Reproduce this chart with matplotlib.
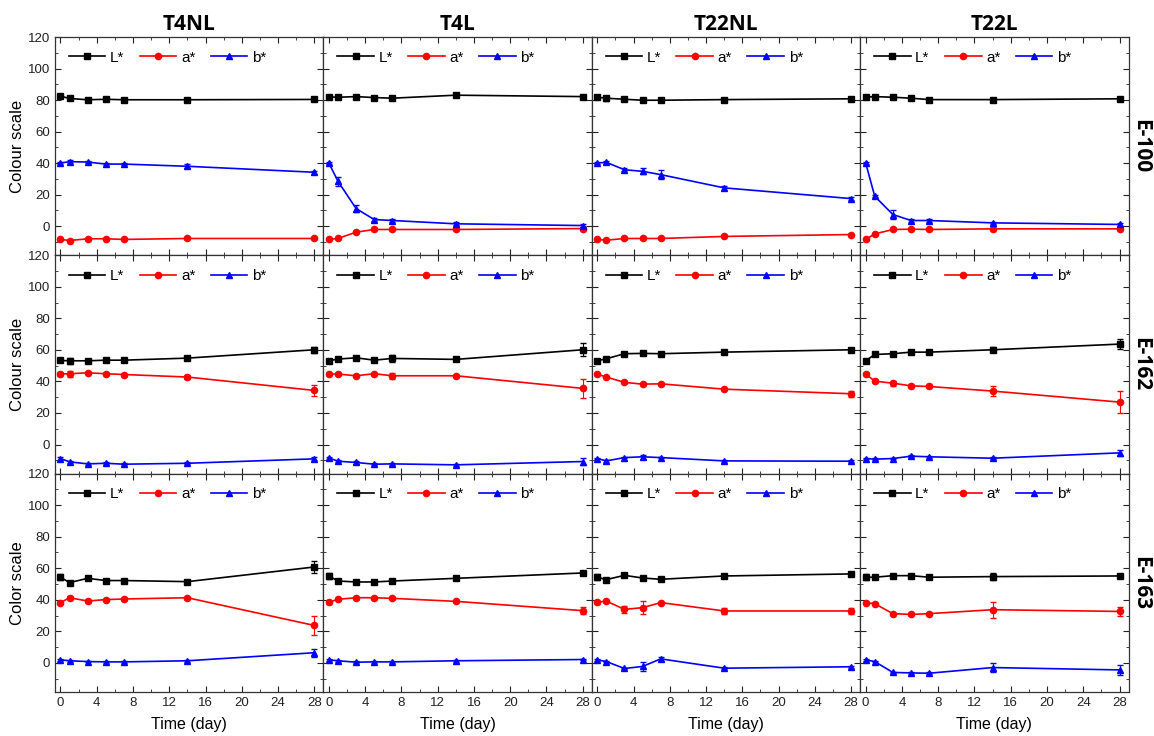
import matplotlib
matplotlib.use("Agg")
import matplotlib.pyplot as plt
from matplotlib.ticker import MultipleLocator

plt.rcParams['font.family'] = ['Liberation Sans', 'DejaVu Sans']

days = [0, 1, 3, 5, 7, 14, 28]
treatments = ["T4NL", "T4L", "T22NL", "T22L"]
colourants = ["E-100", "E-162", "E-163"]
ylabels = ["Colour scale", "Colour scale", "Color scale"]

# E-100 (one list per treatment, in the order of `treatments`)
e100_L = [[82.5, 81.0, 80.2, 80.5, 80.2, 80.2, 80.4],
          [82.0, 81.8, 82.2, 81.6, 81.2, 83.1, 82.2],
          [81.8, 81.2, 80.5, 79.9, 79.9, 80.3, 80.8],
          [81.8, 82.2, 81.8, 81.2, 80.3, 80.3, 80.8]]
e100_a = [[-8.4, -9.1, -8.0, -8.0, -8.4, -7.8, -7.8],
          [-8.4, -7.8, -3.8, -2.1, -2.1, -2.1, -1.5],
          [-8.4, -8.9, -7.8, -7.8, -7.8, -6.5, -5.3],
          [-8.4, -4.9, -2.1, -1.9, -2.1, -1.7, -1.7]]
e100_b = [[40.1, 40.9, 40.7, 39.4, 39.4, 38.0, 34.2],
          [40.1, 28.5, 11.2, 4.2, 3.6, 1.5, 0.4],
          [40.1, 40.5, 35.8, 34.8, 32.7, 24.3, 17.5],
          [40.1, 19.0, 7.4, 3.6, 3.6, 2.1, 1.1]]
e100_L_err = [[0.8, 0.8, 0.5, 0.5, 0.5, 0.5, 0.5],
              [0.5, 0.5, 0.5, 0.5, 0.5, 0.5, 0.5],
              [1.2, 1.5, 0.5, 0.5, 0.5, 0.5, 0.5],
              [0.5, 0.5, 0.5, 0.5, 0.5, 0.5, 0.5]]
e100_a_err = [[0.5, 0.5, 0.5, 0.5, 0.5, 0.5, 0.5],
              [0.5, 0.5, 0.5, 0.5, 0.5, 0.5, 0.5],
              [0.5, 0.5, 0.5, 0.5, 0.5, 0.5, 0.5],
              [0.5, 0.5, 0.5, 0.5, 0.5, 0.5, 0.5]]
e100_b_err = [[0.8, 0.8, 0.5, 0.8, 0.8, 1.2, 0.8],
              [0.5, 3.0, 2.5, 0.8, 0.8, 1.0, 0.8],
              [0.8, 0.8, 0.8, 2.0, 3.0, 1.5, 0.8],
              [0.5, 0.8, 3.0, 0.8, 0.8, 0.8, 0.8]]

# E-162
e162_L = [[53.3, 53.1, 53.1, 53.5, 53.5, 54.8, 60.1],
          [53.1, 54.2, 55.0, 53.5, 54.6, 54.0, 60.1],
          [53.1, 54.4, 57.6, 57.8, 57.6, 58.6, 60.1],
          [53.1, 57.1, 57.6, 58.6, 58.6, 60.1, 63.7]]
e162_a = [[44.7, 44.9, 45.5, 44.9, 44.4, 42.8, 34.3],
          [44.7, 44.7, 43.6, 44.9, 43.6, 43.6, 35.6],
          [44.7, 42.8, 39.4, 38.3, 38.5, 35.1, 32.2],
          [44.7, 40.2, 38.9, 37.2, 36.8, 33.9, 26.9]]
e162_b = [[-8.9, -11.0, -12.3, -11.9, -12.5, -11.9, -9.1],
          [-8.5, -10.6, -11.4, -12.5, -12.3, -12.9, -10.8],
          [-8.9, -10.4, -8.3, -7.8, -8.3, -10.4, -10.6],
          [-8.9, -9.3, -8.9, -7.4, -7.8, -8.7, -5.3]]
e162_L_err = [[1.0, 2.0, 0.5, 0.5, 0.5, 0.8, 2.0],
              [0.8, 1.0, 0.5, 0.5, 2.0, 0.5, 4.0],
              [0.8, 0.5, 0.5, 0.5, 0.5, 0.5, 0.5],
              [0.5, 0.5, 1.0, 0.5, 0.5, 1.5, 3.0]]
e162_a_err = [[1.0, 2.0, 0.8, 0.5, 0.5, 1.0, 3.5],
              [0.8, 0.8, 0.5, 0.5, 2.0, 0.5, 6.0],
              [0.5, 0.5, 0.5, 0.5, 0.5, 0.5, 2.0],
              [0.5, 0.5, 1.5, 0.8, 0.8, 3.0, 7.0]]
e162_b_err = [[0.8, 0.8, 0.5, 0.5, 0.5, 0.5, 1.0],
              [0.5, 0.5, 0.8, 0.5, 0.5, 0.5, 2.0],
              [0.5, 0.5, 0.5, 1.2, 0.5, 0.5, 0.5],
              [0.5, 0.5, 0.5, 0.8, 0.8, 0.5, 2.0]]

# E-163
e163_L = [[54.3, 50.9, 53.6, 52.2, 52.2, 51.5, 60.8],
          [55.1, 51.9, 51.3, 51.3, 51.9, 53.6, 57.0],
          [54.3, 52.8, 55.5, 53.8, 53.0, 55.1, 56.4],
          [54.3, 54.3, 55.3, 55.3, 54.3, 54.7, 55.1]]
e163_a = [[38.2, 41.3, 39.2, 40.1, 40.5, 41.3, 23.7],
          [38.4, 40.3, 41.3, 41.3, 40.9, 39.0, 33.1],
          [38.4, 39.2, 33.9, 35.0, 38.2, 32.9, 32.9],
          [38.2, 37.5, 31.2, 30.7, 31.2, 33.7, 32.6]]
e163_b = [[1.9, 1.3, 0.8, 0.6, 0.6, 1.3, 6.4],
          [1.9, 1.3, 0.4, 0.6, 0.6, 1.3, 2.1],
          [1.9, 0.8, -3.6, -2.3, 2.5, -3.4, -2.5],
          [1.9, 0.8, -6.1, -6.4, -6.6, -3.0, -4.5]]
e163_L_err = [[2.0, 0.5, 1.0, 0.8, 1.0, 0.5, 3.5],
              [2.0, 0.5, 0.5, 0.5, 0.5, 0.5, 0.5],
              [2.0, 1.0, 0.5, 0.5, 0.5, 0.5, 0.5],
              [2.0, 0.5, 0.5, 0.5, 0.5, 2.0, 0.5]]
e163_a_err = [[0.8, 1.0, 0.8, 0.5, 0.8, 0.5, 6.0],
              [0.8, 0.5, 0.5, 0.5, 0.5, 0.5, 2.0],
              [0.8, 0.5, 2.0, 4.0, 0.5, 2.0, 2.0],
              [0.5, 0.5, 0.5, 0.5, 0.5, 5.0, 3.0]]
e163_b_err = [[0.5, 0.5, 0.5, 0.5, 0.5, 0.5, 2.5],
              [0.5, 0.5, 0.5, 0.5, 0.5, 0.5, 0.5],
              [0.5, 0.5, 0.5, 3.0, 1.5, 0.5, 0.5],
              [0.5, 0.5, 0.5, 0.5, 0.5, 3.0, 3.0]]

rows = [
    (e100_L, e100_a, e100_b, e100_L_err, e100_a_err, e100_b_err),
    (e162_L, e162_a, e162_b, e162_L_err, e162_a_err, e162_b_err),
    (e163_L, e163_a, e163_b, e163_L_err, e163_a_err, e163_b_err),
]

fig, axes = plt.subplots(3, 4, figsize=(11.54, 7.36), dpi=100)
fig.subplots_adjust(left=0.0477, right=0.978, top=0.9497, bottom=0.0598,
                    wspace=0, hspace=0)

series_style = [('L*', 'black', 's', 4.5), ('a*', '#ff0000', 'o', 4.5),
                ('b*', '#0000ff', '^', 5)]

for r, (Ls, As, Bs, Le, Ae, Be) in enumerate(rows):
    for c in range(4):
        ax = axes[r, c]
        for (lab, col, mk, ms), vals, errs in zip(series_style,
                                                  (Ls[c], As[c], Bs[c]),
                                                  (Le[c], Ae[c], Be[c])):
            ax.errorbar(days, vals, yerr=errs, fmt='none', ecolor=col,
                        elinewidth=0.8, capsize=2)
            ax.plot(days, vals, color=col, marker=mk, ms=ms, lw=1.2, label=lab)
        ax.set_xlim(-0.6, 29)
        ax.set_ylim(-18.5, 120)
        ax.xaxis.set_major_locator(MultipleLocator(4))
        ax.xaxis.set_minor_locator(MultipleLocator(2))
        ax.yaxis.set_major_locator(MultipleLocator(20))
        ax.yaxis.set_minor_locator(MultipleLocator(10))
        ax.tick_params(which='both', direction='in', top=True, right=True,
                       labelsize=9.5, color='#222222', labelcolor='#222222')
        ax.tick_params(which='major', length=4)
        ax.tick_params(which='minor', length=2.5)
        for sp in ax.spines.values():
            sp.set_color('#333333')
            sp.set_linewidth(0.9)
        if c > 0:
            ax.tick_params(labelleft=False)
        else:
            ax.set_ylabel(ylabels[r], fontsize=12, labelpad=2)
        if r < 2:
            ax.tick_params(labelbottom=False)
        else:
            ax.set_xlabel("Time (day)", fontsize=11.5, labelpad=6)
        if r == 0:
            ax.set_title(treatments[c], fontsize=15, fontweight='bold',
                         family=['Open Sans', 'DejaVu Sans'], pad=5)
        if c == 3:
            ax.text(1.006, 0.5, colourants[r], transform=ax.transAxes,
                    rotation=-90, va='center', ha='left', fontsize=15,
                    fontweight='bold', family=['Open Sans', 'DejaVu Sans'])
        ax.legend(loc='upper left', ncol=3, frameon=False, fontsize=11,
                  handlelength=2.4, columnspacing=1.0, handletextpad=0.3,
                  borderaxespad=0.5, bbox_to_anchor=(0.0, 1.0))

fig.savefig("out.png", dpi=100)
